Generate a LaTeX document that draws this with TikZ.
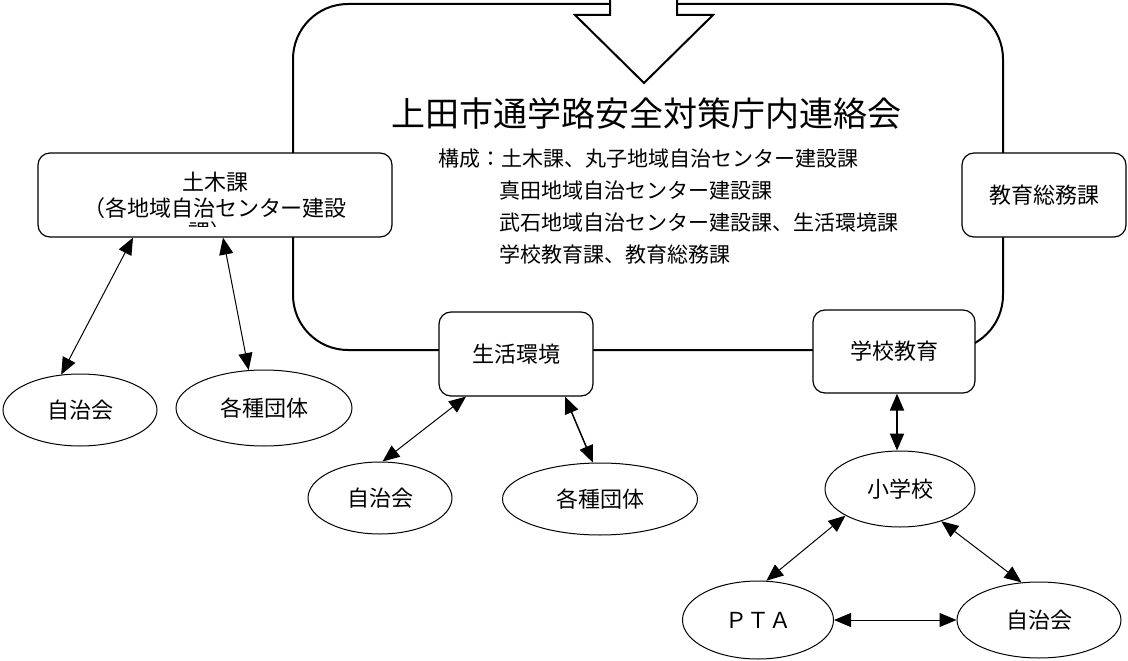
\documentclass[tikz,border=0pt]{standalone}
\usepackage{fontspec}
\setmainfont{Noto Sans CJK JP}
\usetikzlibrary{arrows.meta,shapes.geometric}
\begin{document}
\begin{tikzpicture}[x=1pt,y=-1pt,
  boxnode/.style={draw, rounded corners=12pt, fill=white, line width=1.2pt, inner sep=0pt, align=center, font=\fontsize{22}{26}\selectfont},
  ellnode/.style={draw, ellipse, fill=white, line width=1pt, inner sep=0pt, font=\fontsize{22}{26}\selectfont},
  link/.style={line width=1pt, {Triangle[length=17pt,width=14pt]}-{Triangle[length=17pt,width=14pt]}},
  subline/.style={anchor=base west, inner sep=0pt, font=\fontsize{21}{32}\selectfont},
  bigframe/.style={draw, rounded corners=55pt, line width=2pt, inner sep=0pt},
  blockarrow/.style={draw, fill=white, line width=2pt, line join=miter}
]
\useasboundingbox (0,0) rectangle (1128,661);

% main frame
\node[bigframe, minimum width=710pt, minimum height=346pt] (main) at (648,177) {};
% block arrow at the top
\path[blockarrow] (610,-10) -- (610,15) -- (575,15) -- (644,83) -- (713,15) -- (677,15) -- (677,-10) -- cycle;

% title and members
\node[anchor=base, inner sep=0pt, font=\fontsize{34}{40}\selectfont] (title) at (646.5,126) {上田市通学路安全対策庁内連絡会};
\node[subline] (m1) at (438,166) {構成：土木課、丸子地域自治センター建設課};
\node[subline] (m2) at (499,198) {真田地域自治センター建設課};
\node[subline] (m3) at (499,230) {武石地域自治センター建設課、生活環境課};
\node[subline] (m4) at (499,262) {学校教育課、教育総務課};

% boxes
\node[boxnode, minimum width=354pt, minimum height=84pt] (doboku) at (215,195) {土木課\\（各地域自治センター建設};
\begin{scope}
  \clip (45,150) rectangle (385,226);
  \node[inner sep=0pt, font=\fontsize{22}{26}\selectfont] (dobokuC) at (210,232) {課）};
\end{scope}
\node[boxnode, minimum width=164pt, minimum height=84pt] (somu) at (1044,195) {教育総務課};
\node[boxnode, minimum width=154pt, minimum height=84pt] (seikatsu) at (516,354) {生活環境};
\node[boxnode, minimum width=162pt, minimum height=83pt] (gakko) at (894,351.5) {学校教育};

% ellipses
\node[ellnode, minimum width=154pt, minimum height=72pt] (jichiL) at (80,410) {自治会};
\node[ellnode, minimum width=176pt, minimum height=76pt] (dantaiL) at (264,408) {各種団体};
\node[ellnode, minimum width=144pt, minimum height=72pt] (jichiM) at (380,498) {自治会};
\node[ellnode, minimum width=195pt, minimum height=72pt] (dantaiM) at (600,499) {各種団体};
\node[ellnode, minimum width=150pt, minimum height=76pt] (shogakko) at (900,489) {小学校};
\node[ellnode, minimum width=151pt, minimum height=78pt] (pta) at (758,620) {ＰＴＡ};
\node[ellnode, minimum width=164pt, minimum height=76pt] (jichiR) at (1039,620) {自治会};

% connectors
\draw[link] ([xshift=-82pt]doboku.south) -- (jichiL.118);
\draw[link] ([xshift=8pt]doboku.south) -- (dantaiL.112);
\draw[link] ([xshift=-50pt]seikatsu.south) -- (jichiM.86);
\draw[link, line width=1.5pt] ([xshift=49pt]seikatsu.south) -- (dantaiM.101);
\draw[link, line width=2pt] ([xshift=3pt]gakko.south) -- ([xshift=-3pt]shogakko.north);
\draw[link] (shogakko.206) -- (pta.78);
\draw[link] (shogakko.322) -- (jichiR.115);
\draw[link] (pta.east) -- (jichiR.west);
\end{tikzpicture}
\end{document}
